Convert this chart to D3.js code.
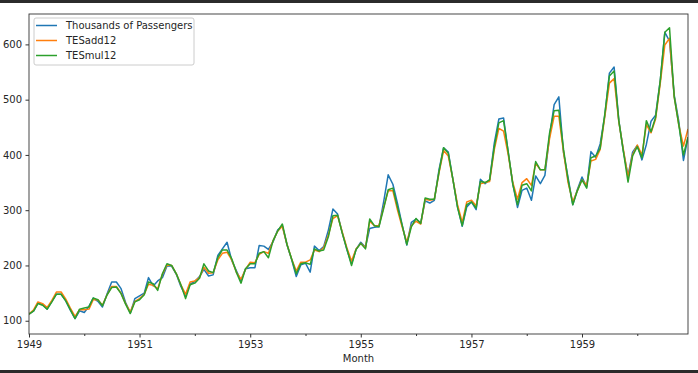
<!DOCTYPE html>
<head>
<meta charset="utf-8">
<script src="https://cdn.jsdelivr.net/npm/d3@7"></script>
<style>
body { margin: 0; background: #fff; }
text { font-family: "DejaVu Sans", sans-serif; }
</style>
</head>
<body>
<script>
// monthly data 1949-01 .. 1960-12
var startYear = 1949;
var passengers = [
  112,118,132,129,121,135,148,148,136,119,104,118,
  115,126,141,135,125,149,170,170,158,133,114,140,
  145,150,178,163,172,178,199,199,184,162,146,166,
  171,180,193,181,183,218,230,242,209,191,172,194,
  196,196,236,235,229,243,264,272,237,211,180,201,
  204,188,235,227,234,264,302,293,259,229,203,229,
  242,233,267,269,270,315,364,347,312,274,237,278,
  284,277,317,313,318,374,413,405,355,306,271,306,
  315,301,356,348,355,422,465,467,404,347,305,336,
  340,318,362,348,363,435,491,505,404,359,310,337,
  360,342,406,396,420,472,548,559,463,407,362,405,
  417,391,419,461,472,535,622,606,508,461,390,432];
var tesAdd12 = [
  112,120,134,131,124,137,152,152,139,123,108,120,
  120,121,138,138,128,147,162,162,150,131,116,135,
  140,148,166,164,158,184,201,200,185,165,148,170,
  172,178,197,186,187,210,222,224,210,188,175,193,
  206,205,220,225,222,245,262,271,238,212,190,206,
  206,210,228,225,232,255,285,290,260,232,208,230,
  240,232,280,272,272,305,335,335,300,270,242,272,
  280,275,320,318,320,368,408,398,355,310,278,315,
  318,308,348,350,352,410,448,443,400,350,320,350,
  357,345,385,373,373,430,470,470,405,350,315,335,
  355,345,389,392,410,470,530,538,460,410,360,400,
  418,400,455,440,465,530,599,611,505,455,416,447];
var tesMul12 = [
  112,118,131,128,121,134,148,148,136,120,104,121,
  123,125,141,138,127,147,160,161,149,130,113,134,
  138,147,170,167,155,185,203,200,185,165,140,165,
  168,177,203,190,187,214,228,228,212,188,168,194,
  203,203,222,225,214,245,262,275,238,212,185,203,
  205,202,230,226,228,252,290,291,258,230,200,229,
  240,230,284,272,270,303,337,340,305,273,238,270,
  285,276,322,320,320,370,413,403,355,305,272,310,
  315,304,352,350,355,415,458,462,405,347,310,345,
  348,335,388,373,373,440,480,481,410,355,310,335,
  355,340,395,398,412,475,543,552,462,407,351,398,
  415,395,462,442,468,535,622,630,505,455,400,432];

var seriesNames = ["Thousands of Passengers", "TESadd12", "TESmul12"];
var colours = ["#1f77b4", "#ff7f0e", "#2ca02c"];
var yTicks = [100, 200, 300, 400, 500, 600];
var majorYears = [1949, 1951, 1953, 1955, 1957, 1959];
var minorYears = [1950, 1952, 1954, 1956, 1958, 1960];

var months = passengers.map((d, i) => new Date(startYear, i, 1));
var allSeries = [passengers, tesAdd12, tesMul12];

var W = 698, H = 373;
var margin = {top: 14, right: 10, bottom: 39, left: 29};
var width = W - margin.left - margin.right;
var height = H - margin.top - margin.bottom;

var svg = d3.select("body").append("svg")
    .attr("width", W)
    .attr("height", H);

// dark screenshot bands
svg.append("rect").attr("x", 0).attr("y", 0).attr("width", W).attr("height", 3).attr("fill", "#2b2b2b");
svg.append("rect").attr("x", 0).attr("y", 370).attr("width", W).attr("height", 3).attr("fill", "#2b2b2b");

var g = svg.append("g")
    .attr("transform", "translate(" + margin.left + "," + margin.top + ")");

var x = d3.scaleTime()
    .domain([months[0], months[months.length - 1]])
    .range([0, width]);

var y = d3.scaleLinear()
    .domain([76, 655])
    .range([height, 0]);

// y axis
var yAxis = g.append("g")
    .call(d3.axisLeft(y).tickValues(yTicks).tickSize(3.5).tickPadding(3.5));
yAxis.select(".domain").remove();
yAxis.selectAll("text").style("font-size", "10px").attr("fill", "#262626");
yAxis.selectAll("line").attr("stroke", "#333");

// x axis major
var xAxis = g.append("g")
    .attr("transform", "translate(0," + height + ")")
    .call(d3.axisBottom(x)
        .tickValues(majorYears.map(d => new Date(d, 0, 1)))
        .tickFormat(d3.timeFormat("%Y"))
        .tickSize(3.5).tickPadding(3.5));
xAxis.select(".domain").remove();
xAxis.selectAll("text").style("font-size", "10px").attr("fill", "#262626");
xAxis.selectAll("line").attr("stroke", "#333");

// x axis minor
var xMinor = g.append("g")
    .attr("transform", "translate(0," + height + ")")
    .call(d3.axisBottom(x)
        .tickValues(minorYears.map(d => new Date(d, 0, 1)))
        .tickFormat("")
        .tickSize(2));
xMinor.select(".domain").remove();
xMinor.selectAll("line").attr("stroke", "#333");

g.append("text")
    .attr("x", width / 2)
    .attr("y", height + 28)
    .attr("text-anchor", "middle")
    .style("font-size", "10px")
    .attr("fill", "#262626")
    .text("Month");

// lines
var line = d3.line()
    .x((d, i) => x(months[i]))
    .y(d => y(d));

g.append("defs").append("clipPath").attr("id", "clip")
  .append("rect").attr("width", width).attr("height", height);

allSeries.forEach(function(s, k) {
    g.append("path")
        .datum(s)
        .attr("clip-path", "url(#clip)")
        .attr("fill", "none")
        .attr("stroke", colours[k])
        .attr("stroke-width", 1.5)
        .attr("stroke-linejoin", "round")
        .attr("d", line);
});

// frame
g.append("rect")
    .attr("width", width)
    .attr("height", height)
    .attr("fill", "none")
    .attr("stroke", "#333")
    .attr("stroke-width", 0.9);

// legend
var legend = g.append("g").attr("transform", "translate(5,4)");
legend.append("rect")
    .attr("width", 160)
    .attr("height", 47)
    .attr("rx", 2)
    .attr("fill", "#fff")
    .attr("fill-opacity", 0.8)
    .attr("stroke", "#ccc");
seriesNames.forEach(function(name, i) {
    legend.append("line")
        .attr("x1", 2).attr("x2", 23)
        .attr("y1", 7.5 + i * 15).attr("y2", 7.5 + i * 15)
        .attr("stroke", colours[i])
        .attr("stroke-width", 1.5);
    legend.append("text")
        .attr("x", 32)
        .attr("y", 7.5 + i * 15)
        .attr("dy", "0.35em")
        .style("font-size", "10px")
        .attr("fill", "#262626")
        .text(name);
});
</script>
</body>
</html>
